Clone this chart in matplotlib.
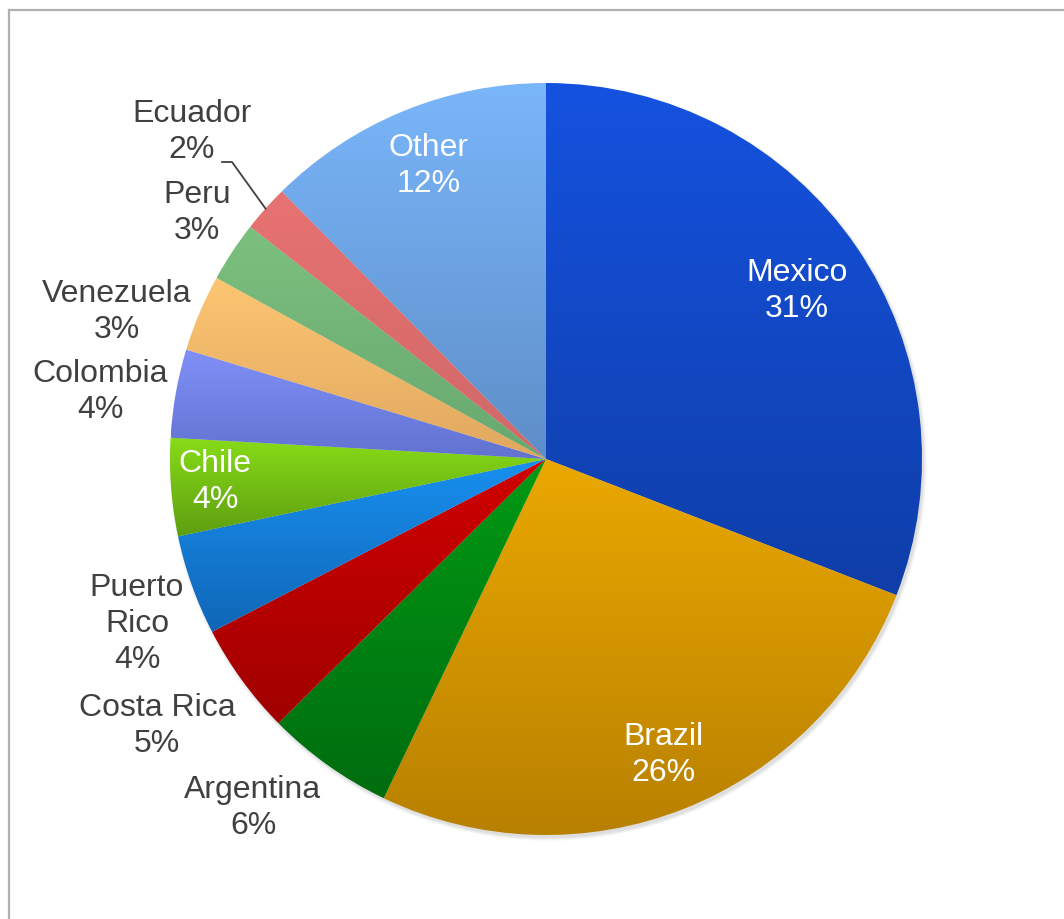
import matplotlib
matplotlib.use("Agg")
import matplotlib.pyplot as plt
import numpy as np
from matplotlib.colors import LinearSegmentedColormap
from matplotlib.patches import Circle

# Daten (Anteile in %, im Uhrzeigersinn ab 12 Uhr)
countries = ['Mexico', 'Brazil', 'Argentina', 'Costa Rica', 'Puerto Rico', 'Chile',
             'Colombia', 'Venezuela', 'Peru', 'Ecuador', 'Other']
shares = [30.9, 26.2, 5.5, 4.8, 4.3, 4.2, 3.8, 3.3, 2.6, 2.0, 12.4]
pct_labels = ['31%', '26%', '6%', '5%', '4%', '4%', '4%', '3%', '3%', '2%', '12%']

# Farbverlauf je Segment: oben hell, unten dunkel
top_colors = ['#1552e0', '#eaa800', '#009a14', '#d00000', '#1890f0', '#88dc18',
              '#8090f8', '#fdc672', '#7cc07e', '#e87272', '#7ab6fa']
bottom_colors = ['#0f3ea8', '#b88000', '#006c0f', '#a00000', '#1066b6', '#5e9e10',
                 '#6272d0', '#e0a860', '#68a870', '#d06868', '#5e8ec8']

W, H = 1064, 919
cx, cy, R = 546, 459, 376

# Beschriftungen (Pixel, von oben gemessen)
label_xy = [(797, 291), (663, 755), (253, 808), (157, 726), (137, 624), (215, 482),
            (100, 392), (117, 312), (197, 213), (192, 132), (429, 166)]
white_text = ['Mexico', 'Brazil', 'Chile', 'Other']

fig = plt.figure(figsize=(W / 100, H / 100), dpi=100)
ax = fig.add_axes([0, 0, 1, 1])

# leichter Schatten
for i, a in enumerate([0.10, 0.08, 0.06, 0.04]):
    ax.add_patch(Circle((cx + 2, H - cy - 3), R + i, color='#808080', alpha=a, lw=0, zorder=0))

wedges, _ = ax.pie(shares, startangle=90, counterclock=False, center=(cx, H - cy),
                   radius=R, wedgeprops=dict(linewidth=0))

grad = np.linspace(0, 1, 256).reshape(-1, 1)
for w, c_top, c_bot in zip(wedges, top_colors, bottom_colors):
    bb = w.get_path().get_extents()
    cmap = LinearSegmentedColormap.from_list('g', [c_bot, c_top])
    im = ax.imshow(grad, extent=[bb.x0, bb.x1, bb.y0, bb.y1], origin='lower',
                   cmap=cmap, aspect='auto', zorder=1, interpolation='bilinear')
    im.set_clip_path(w)
    w.set_facecolor('none')

for name, pct, (lx, ly) in zip(countries, pct_labels, label_xy):
    txt = name.replace(' ', '\n') if name == 'Puerto Rico' else name
    col = 'white' if name in white_text else '#404040'
    ax.text(lx, H - ly, txt + '\n' + pct, ha='center', va='center', color=col,
            fontsize=23, family='Liberation Sans', linespacing=1.25, zorder=5)

# Führungslinie Ecuador
cum = np.cumsum(shares)
mid = (cum[9] - shares[9] / 2) / 100.0
ang = np.deg2rad(90 - 360 * mid)
ex, ey = cx + R * np.cos(ang), (H - cy) + R * np.sin(ang)
ax.plot([222, 232, ex], [H - 162, H - 162, ey], color='#404040', lw=1.3, zorder=6)

# Rahmen
ax.plot([9, W], [H - 10, H - 10], color='#b0b0b0', lw=1.6, zorder=7)
ax.plot([9, 9], [H - 10, 0], color='#b0b0b0', lw=1.6, zorder=7)

ax.set_xlim(0, W)
ax.set_ylim(0, H)
ax.set_aspect('equal')
ax.axis('off')

fig.savefig('out.png', dpi=100, facecolor='white')
